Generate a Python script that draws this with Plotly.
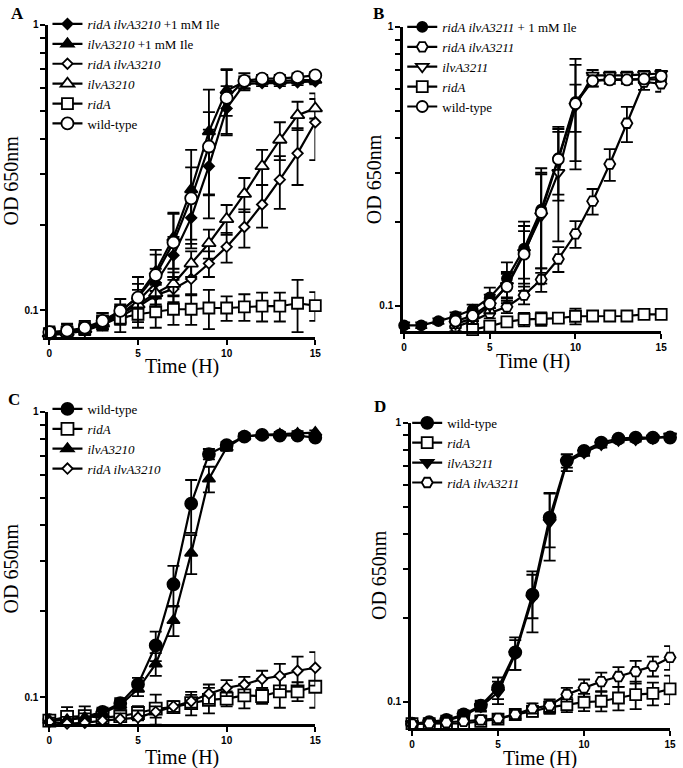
import math
import plotly.graph_objects as go

W, H = 683, 768
t = list(range(16))

# ---------------- Panel A ----------------
A_names = ["<i>ridA ilvA3210</i> +1 mM Ile", "<i>ilvA3210</i> +1 mM Ile", "<i>ridA ilvA3210</i>",
           "<i>ilvA3210</i>", "<i>ridA</i>", "wild-type"]
A_rid_ilv_ile = [0.083, 0.084, 0.086, 0.090, 0.097, 0.108, 0.125, 0.156, 0.211, 0.320, 0.510, 0.620, 0.625, 0.625, 0.630, 0.634]
A_rid_ilv_ile_err = [0.003, 0.003, 0.003, 0.004, 0.006, 0.010, 0.015, 0.025, 0.040, 0.110, 0.100, 0.030, 0.015, 0.015, 0.015, 0.015]
A_ilv_ile = [0.083, 0.084, 0.086, 0.091, 0.099, 0.112, 0.137, 0.180, 0.265, 0.423, 0.590, 0.630, 0.635, 0.635, 0.640, 0.640]
A_ilv_ile_err = [0.003, 0.003, 0.003, 0.004, 0.006, 0.012, 0.020, 0.040, 0.100, 0.170, 0.110, 0.030, 0.015, 0.015, 0.015, 0.015]
A_rid_ilv = [0.082, 0.083, 0.085, 0.089, 0.095, 0.103, 0.113, 0.119, 0.129, 0.146, 0.167, 0.196, 0.235, 0.287, 0.355, 0.456]
A_rid_ilv_err = [0.003, 0.003, 0.003, 0.004, 0.006, 0.008, 0.010, 0.012, 0.015, 0.015, 0.020, 0.030, 0.040, 0.060, 0.080, 0.120]
A_ilv = [0.083, 0.084, 0.086, 0.090, 0.097, 0.105, 0.115, 0.124, 0.146, 0.172, 0.209, 0.256, 0.320, 0.396, 0.483, 0.510]
A_ilv_err = [0.003, 0.003, 0.003, 0.004, 0.006, 0.008, 0.010, 0.012, 0.015, 0.020, 0.025, 0.035, 0.045, 0.060, 0.055, 0.040]
A_ridA = [0.083, 0.084, 0.086, 0.092, 0.094, 0.097, 0.099, 0.101, 0.101, 0.102, 0.102, 0.103, 0.1035, 0.1035, 0.106, 0.104]
A_ridA_err = [0.004, 0.006, 0.006, 0.006, 0.010, 0.010, 0.012, 0.012, 0.012, 0.016, 0.010, 0.011, 0.012, 0.012, 0.022, 0.012]
A_wt = [0.084, 0.085, 0.087, 0.092, 0.0997, 0.111, 0.133, 0.173, 0.247, 0.375, 0.555, 0.637, 0.648, 0.648, 0.656, 0.665]
A_wt_err = [0.004, 0.004, 0.004, 0.006, 0.010, 0.020, 0.030, 0.045, 0.070, 0.120, 0.140, 0.040, 0.020, 0.020, 0.020, 0.020]

# ---------------- Panel B ----------------
B_names = ["<i>ridA ilvA3211</i> + 1 mM Ile", "<i>ridA ilvA3211</i>", "<i>ilvA3211</i>", "<i>ridA</i>", "wild-type"]
B_t_late = list(range(3, 16))
B_t_ridA = list(range(4, 16))
B_rid_ilv_ile = [0.085, 0.085, 0.088, 0.0916, 0.0968, 0.107, 0.125, 0.160, 0.221, 0.338, 0.538, 0.642, 0.648, 0.648, 0.648, 0.648]
B_rid_ilv_ile_err = [0.002, 0.002, 0.002, 0.003, 0.004, 0.009, 0.018, 0.040, 0.090, 0.100, 0.230, 0.030, 0.010, 0.010, 0.010, 0.010]
B_rid_ilv = [0.084, 0.088, 0.094, 0.099, 0.109, 0.124, 0.147, 0.181, 0.237, 0.322, 0.451, 0.634, 0.625]
B_rid_ilv_err = [0.003, 0.003, 0.004, 0.005, 0.008, 0.012, 0.015, 0.020, 0.025, 0.042, 0.065, 0.040, 0.040]
B_ilv = [0.086, 0.090, 0.100, 0.118, 0.155, 0.210, 0.300, 0.520, 0.670, 0.670, 0.670, 0.675, 0.680]
B_ilv_err = [0.003, 0.004, 0.006, 0.012, 0.030, 0.090, 0.130, 0.100, 0.030, 0.020, 0.020, 0.020, 0.020]
B_ridA = [0.082, 0.0844, 0.0875, 0.0892, 0.0896, 0.0902, 0.0916, 0.0918, 0.0918, 0.0918, 0.093, 0.093]
B_ridA_err = [0.002, 0.003, 0.003, 0.005, 0.005, 0.003, 0.006, 0.002, 0.002, 0.002, 0.003, 0.003]
B_wt = [0.088, 0.092, 0.1016, 0.117, 0.153, 0.216, 0.335, 0.530, 0.640, 0.645, 0.645, 0.650, 0.665]
B_wt_err = [0.003, 0.004, 0.008, 0.015, 0.040, 0.080, 0.085, 0.200, 0.030, 0.020, 0.020, 0.020, 0.030]

# ---------------- Panel C ----------------
C_names = ["wild-type", "<i>ridA</i>", "<i>ilvA3210</i>", "<i>ridA ilvA3210</i>"]
C_wt = [0.0832, 0.0835, 0.0855, 0.089, 0.0955, 0.111, 0.152, 0.249, 0.477, 0.711, 0.764, 0.819, 0.830, 0.825, 0.825, 0.812]
C_wt_err = [0.002, 0.002, 0.003, 0.003, 0.004, 0.006, 0.018, 0.040, 0.100, 0.030, 0.020, 0.020, 0.015, 0.015, 0.015, 0.015]
C_ridA = [0.083, 0.0855, 0.086, 0.085, 0.086, 0.0882, 0.0913, 0.0925, 0.0955, 0.098, 0.099, 0.1016, 0.101, 0.105, 0.105, 0.109]
C_ridA_err = [0.003, 0.007, 0.007, 0.004, 0.004, 0.005, 0.011, 0.004, 0.009, 0.010, 0.006, 0.010, 0.006, 0.013, 0.008, 0.017]
C_ilv = [0.083, 0.0835, 0.085, 0.088, 0.094, 0.107, 0.131, 0.186, 0.320, 0.582, 0.750, 0.820, 0.830, 0.835, 0.840, 0.846]
C_ilv_err = [0.002, 0.002, 0.003, 0.003, 0.004, 0.006, 0.012, 0.022, 0.050, 0.060, 0.020, 0.020, 0.015, 0.015, 0.015, 0.015]
C_rid_ilv = [0.082, 0.081, 0.0815, 0.083, 0.084, 0.085, 0.089, 0.093, 0.097, 0.103, 0.108, 0.111, 0.116, 0.119, 0.124, 0.127]
C_rid_ilv_err = [0.002, 0.002, 0.002, 0.003, 0.004, 0.005, 0.004, 0.004, 0.005, 0.008, 0.007, 0.007, 0.008, 0.012, 0.015, 0.017]

# ---------------- Panel D ----------------
D_names = ["wild-type", "<i>ridA</i>", "<i>ilvA3211</i>", "<i>ridA ilvA3211</i>"]
D_wt = [0.0833, 0.0844, 0.086, 0.0899, 0.0968, 0.112, 0.150, 0.242, 0.457, 0.730, 0.793, 0.849, 0.877, 0.884, 0.884, 0.885]
D_wt_err = [0.002, 0.002, 0.003, 0.003, 0.004, 0.010, 0.020, 0.043, 0.100, 0.040, 0.020, 0.020, 0.015, 0.015, 0.015, 0.015]
D_ridA = [0.0833, 0.0833, 0.0833, 0.0835, 0.085, 0.0865, 0.0899, 0.0923, 0.0954, 0.0976, 0.0995, 0.1003, 0.103, 0.106, 0.107, 0.111]
D_ridA_err = [0.002, 0.002, 0.002, 0.002, 0.003, 0.003, 0.003, 0.004, 0.005, 0.006, 0.007, 0.008, 0.010, 0.012, 0.010, 0.013]
D_ilv = [0.0833, 0.084, 0.0855, 0.089, 0.096, 0.108, 0.148, 0.235, 0.440, 0.720, 0.780, 0.835, 0.865, 0.870, 0.880, 0.895]
D_ilv_err = [0.002, 0.002, 0.003, 0.003, 0.004, 0.010, 0.018, 0.058, 0.120, 0.050, 0.020, 0.020, 0.015, 0.015, 0.015, 0.015]
D_rid_ilv = [0.083, 0.0835, 0.084, 0.085, 0.086, 0.087, 0.0899, 0.0945, 0.0968, 0.106, 0.112, 0.118, 0.123, 0.128, 0.134, 0.144]
D_rid_ilv_err = [0.002, 0.002, 0.002, 0.002, 0.003, 0.003, 0.003, 0.004, 0.005, 0.006, 0.008, 0.009, 0.010, 0.012, 0.011, 0.014]

y_tickvals = [0.1, 0.2, 0.3, 0.4, 0.5, 0.6, 0.7, 0.8, 0.9, 1.0]
y_ticktext = ["0.1", "", "", "", "", "", "", "", "", "1"]
x_tickvals = [0, 5, 10, 15]

fig = go.Figure()


def px2x(p):
    return p / W


def px2y(p):
    return 1 - p / H


def add(panel, x, y, err, name, symbol, filled, size, lw=2.2):
    idx = {"A": "", "B": "2", "C": "3", "D": "4"}[panel]
    fig.add_trace(go.Scatter(
        x=x, y=y, name=name, mode="lines+markers",
        xaxis="x" + idx, yaxis="y" + idx, legend="legend" + idx,
        line=dict(color="black", width=lw),
        marker=dict(symbol=symbol, size=size, color="black" if filled else "white",
                    line=dict(color="black", width=1.8)),
        error_y=dict(type="data", array=err, visible=True, color="black", thickness=1.8, width=6),
        cliponaxis=False,
    ))


# A
add("A", t, A_rid_ilv_ile, A_rid_ilv_ile_err, A_names[0], "diamond", True, 8)
add("A", t, A_ilv_ile, A_ilv_ile_err, A_names[1], "triangle-up", True, 11)
add("A", t, A_rid_ilv, A_rid_ilv_err, A_names[2], "diamond", False, 8)
add("A", t, A_ilv, A_ilv_err, A_names[3], "triangle-up", False, 12)
add("A", t, A_ridA, A_ridA_err, A_names[4], "square", False, 11)
add("A", t, A_wt, A_wt_err, A_names[5], "circle", False, 12)
# B
add("B", t, B_rid_ilv_ile, B_rid_ilv_ile_err, B_names[0], "circle", True, 10)
add("B", B_t_late, B_rid_ilv, B_rid_ilv_err, B_names[1], "hexagon2", False, 11)
add("B", B_t_late, B_ilv, B_ilv_err, B_names[2], "triangle-down", False, 11)
add("B", B_t_ridA, B_ridA, B_ridA_err, B_names[3], "square", False, 11)
add("B", B_t_late, B_wt, B_wt_err, B_names[4], "circle", False, 11)
# C
add("C", t, C_wt, C_wt_err, C_names[0], "circle", True, 12)
add("C", t, C_ridA, C_ridA_err, C_names[1], "square", False, 12)
add("C", t, C_ilv, C_ilv_err, C_names[2], "triangle-up", True, 11)
add("C", t, C_rid_ilv, C_rid_ilv_err, C_names[3], "diamond", False, 8)
# D
add("D", t, D_wt, D_wt_err, D_names[0], "circle", True, 12)
add("D", t, D_ridA, D_ridA_err, D_names[1], "square", False, 11)
add("D", t, D_ilv, D_ilv_err, D_names[2], "triangle-down", True, 11)
add("D", t, D_rid_ilv, D_rid_ilv_err, D_names[3], "hexagon2", False, 11)

tickfont = dict(family="Liberation Sans", size=10, color="black", weight="bold")


def xax(x0, x1, anchor):
    return dict(domain=[px2x(x0), px2x(x1)], range=[-0.05, 15], tickvals=x_tickvals,
                showline=True, linecolor="black", linewidth=3, ticks="outside", ticklen=5,
                tickwidth=2, tickcolor="black", tickfont=tickfont, showgrid=False,
                zeroline=False, anchor=anchor, fixedrange=True)


def yax(y0, y1, lo, anchor):
    return dict(domain=[px2y(y1), px2y(y0)], type="log", range=[math.log10(lo), 0],
                tickvals=y_tickvals, ticktext=y_ticktext,
                showline=True, linecolor="black", linewidth=3, ticks="outside", ticklen=5,
                tickwidth=2, tickcolor="black", tickfont=tickfont, showgrid=False,
                zeroline=False, anchor=anchor, fixedrange=True)


legfont = dict(family="Liberation Serif", size=13, color="black")


def leg(xp, yp):
    return dict(x=px2x(xp), y=px2y(yp), xanchor="left", yanchor="top", font=legfont,
                bgcolor="rgba(0,0,0,0)", borderwidth=0, itemwidth=30, tracegroupgap=0,
                traceorder="normal")


fig.update_layout(
    width=W, height=H, margin=dict(l=0, r=0, t=0, b=0),
    paper_bgcolor="white", plot_bgcolor="white", showlegend=True,
    xaxis=xax(47, 317, "y"), yaxis=yax(19, 334, 0.0805, "x"),
    xaxis2=xax(406, 667, "y2"), yaxis2=yax(21, 328, 0.0808, "x2"),
    xaxis3=xax(47, 317, "y3"), yaxis3=yax(409, 724, 0.0805, "x3"),
    xaxis4=xax(414, 676, "y4"), yaxis4=yax(420, 728, 0.0802, "x4"),
    legend=leg(46, 3), legend2=leg(405, 6), legend3=leg(46, 391), legend4=leg(410, 405),
)

annots = []
for txt, xp, yp in [("A", 16, 8), ("B", 381, 8), ("C", 12, 397), ("D", 382, 404)]:
    annots.append(dict(text="<b>" + txt + "</b>", x=px2x(xp), y=px2y(yp), xref="paper", yref="paper",
                       xanchor="center", yanchor="middle", showarrow=False,
                       font=dict(family="Liberation Serif", size=17, color="black")))
for xp, yp in [(182, 363), (537, 358), (182, 757), (544, 758)]:
    annots.append(dict(text="Time (H)", x=px2x(xp), y=px2y(yp), xref="paper", yref="paper",
                       xanchor="center", yanchor="middle", showarrow=False,
                       font=dict(family="Liberation Serif", size=20, color="black")))
for xp, yp in [(9, 176), (376, 175), (9, 567), (381, 574)]:
    annots.append(dict(text="OD 650nm", x=px2x(xp), y=px2y(yp), xref="paper", yref="paper",
                       xanchor="center", yanchor="middle", textangle=-90, showarrow=False,
                       font=dict(family="Liberation Serif", size=20, color="black")))
fig.update_layout(annotations=annots)

fig.write_html("out.html", config={"displayModeBar": False},
               post_script="document.body.style.margin='0px';document.body.style.overflow='hidden';")
